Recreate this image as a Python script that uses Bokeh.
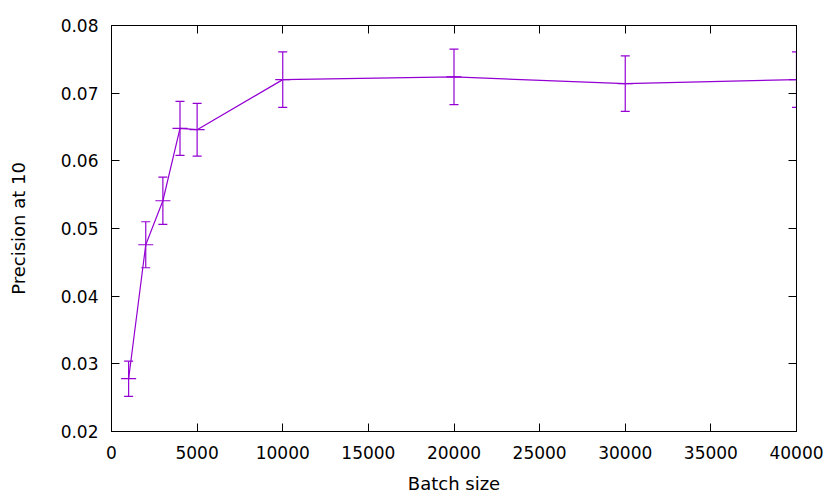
from bokeh.plotting import figure
from bokeh.models import ColumnDataSource, Whisker, TeeHead, LinearAxis, Range1d, FixedTicker
from bokeh.embed import file_html
from bokeh.resources import INLINE

batch_size = [1000, 2000, 3000, 4000, 5000, 10000, 20000, 30000, 40000]
precision = [0.0278, 0.0476, 0.0541, 0.0648, 0.0646, 0.0720, 0.0724, 0.0714, 0.0720]
err = [0.0026, 0.0034, 0.0035, 0.0040, 0.0039, 0.0041, 0.0041, 0.0041, 0.0041]
x_ticks = [0, 5000, 10000, 15000, 20000, 25000, 30000, 35000, 40000]
y_ticks = [0.02, 0.03, 0.04, 0.05, 0.06, 0.07, 0.08]

color = "#9400D3"
FONT = "DejaVu Sans"

src = ColumnDataSource(dict(
    x=batch_size, y=precision,
    lo=[p - e for p, e in zip(precision, err)],
    hi=[p + e for p, e in zip(precision, err)],
))

p = figure(frame_width=685, frame_height=406, output_backend="svg", toolbar_location=None,
           x_range=Range1d(0, 40000), y_range=Range1d(0.02, 0.08),
           min_border_left=111, min_border_right=34, min_border_top=25, min_border_bottom=65)
p.xgrid.visible = False
p.ygrid.visible = False
p.outline_line_color = "black"
p.outline_line_width = 1
p.outline_line_alpha = 1

p.line("x", "y", source=src, line_color=color, line_width=1.2)
w = Whisker(source=src, base="x", lower="lo", upper="hi", dimension="height",
            line_color=color, line_width=1.2,
            upper_head=TeeHead(size=9, line_color=color, line_width=1.2),
            lower_head=TeeHead(size=9, line_color=color, line_width=1.2))
p.add_layout(w)
p.scatter("x", "y", source=src, marker="dash", size=15, line_color=color, line_width=1.2)

for ax in (p.xaxis[0], p.yaxis[0]):
    ax.major_tick_in = 8
    ax.major_tick_out = 0
    ax.minor_tick_line_color = None
    ax.axis_line_color = "black"
    ax.major_tick_line_color = "black"
    ax.major_label_text_font = FONT
    ax.major_label_text_font_size = "17px"
    ax.major_label_text_color = "black"
    ax.axis_label_text_font = FONT
    ax.axis_label_text_font_size = "18px"
    ax.axis_label_text_font_style = "normal"
    ax.axis_label_text_color = "black"

p.xaxis.ticker = FixedTicker(ticks=x_ticks)
p.yaxis.ticker = FixedTicker(ticks=y_ticks)
p.xaxis.axis_label = "Batch size"
p.yaxis.axis_label = "Precision at 10"
p.xaxis.major_label_standoff = 14
p.yaxis.major_label_standoff = 13
p.xaxis.axis_label_standoff = 11
p.yaxis.axis_label_standoff = 29

top = LinearAxis(ticker=FixedTicker(ticks=x_ticks), major_tick_in=8, major_tick_out=0,
                 minor_tick_line_color=None, major_label_text_font_size="0px",
                 major_label_text_color=None)
right = LinearAxis(ticker=FixedTicker(ticks=y_ticks), major_tick_in=8, major_tick_out=0,
                   minor_tick_line_color=None, major_label_text_font_size="0px",
                   major_label_text_color=None)
p.add_layout(top, "above")
p.add_layout(right, "right")

open("out.html", "w").write(file_html(p, INLINE))
